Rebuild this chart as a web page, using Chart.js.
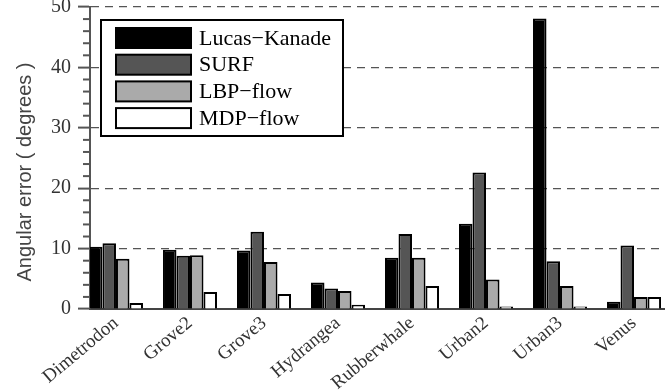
<!DOCTYPE html>
<html>
<head>
<meta charset="utf-8">
<script src="https://cdn.jsdelivr.net/npm/chart.js@4.4.0/dist/chart.umd.min.js"></script>
<style>
  html, body { margin: 0; padding: 0; background: #fff; }
</style>
</head>
<body>
<canvas id="chart" width="672" height="391"></canvas>
<script>
// data
const categories = ['Dimetrodon', 'Grove2', 'Grove3', 'Hydrangea', 'Rubberwhale', 'Urban2', 'Urban3', 'Venus'];
const lucasKanade = [10.3, 9.8, 9.7, 4.4, 8.5, 14.1, 48.1, 1.2];
const surf = [10.9, 8.8, 12.8, 3.4, 12.4, 22.6, 7.9, 10.5];
const lbpFlow = [8.3, 8.9, 7.8, 3.0, 8.5, 4.9, 3.8, 2.0];
const mdpFlow = [1.0, 2.8, 2.5, 0.7, 3.8, 0.4, 0.4, 2.0];
const yMin = 0, yMax = 50, yStep = 10, minorStep = 2;
const yTitle = 'Angular error ( degrees )';

function toPoints(values) {
    return values.map((v, i) => ({ x: i + 1, y: v }));
}

function makeSet(label, values, color) {
    return {
        label: label,
        data: toPoints(values),
        backgroundColor: color,
        borderColor: '#000',
        borderWidth: 2,
        categoryPercentage: 0.73,
        barPercentage: 1.0
    };
}

// small minor ticks on the y axis
const minorTicks = {
    id: 'minorTicks',
    afterDraw(chart) {
        const ctx = chart.ctx;
        const scale = chart.scales.y;
        const x = chart.chartArea.left;
        ctx.save();
        ctx.strokeStyle = '#555';
        ctx.lineWidth = 2;
        for (let v = yMin + minorStep; v < yMax; v += minorStep) {
            if (v % yStep === 0) continue;
            const py = scale.getPixelForValue(v);
            ctx.beginPath();
            ctx.moveTo(x - 7, py);
            ctx.lineTo(x, py);
            ctx.stroke();
        }
        ctx.restore();
    }
};

// y title sits a bit below the axis middle in the original
const sideTitle = {
    id: 'sideTitle',
    afterDraw(chart) {
        const ctx = chart.ctx;
        const area = chart.chartArea;
        ctx.save();
        ctx.translate(area.left - 65, (area.top + area.bottom) / 2 + 14);
        ctx.rotate(-Math.PI / 2);
        ctx.font = '20px "Liberation Sans"';
        ctx.fillStyle = '#444';
        ctx.textAlign = 'center';
        ctx.textBaseline = 'middle';
        ctx.fillText(yTitle, 0, 0);
        ctx.restore();
    }
};

// boxed legend inside the plot, like the original figure
const legendBox = {
    id: 'legendBox',
    afterDatasetsDraw(chart) {
        const ctx = chart.ctx;
        const area = chart.chartArea;
        const x0 = area.left + 11, y0 = area.top + 13;
        ctx.save();
        ctx.fillStyle = '#fff';
        ctx.fillRect(x0, y0, 242, 116);
        ctx.lineWidth = 2;
        ctx.strokeStyle = '#000';
        ctx.strokeRect(x0, y0, 242, 116);
        ctx.font = '22px "Liberation Serif"';
        ctx.textBaseline = 'middle';
        chart.data.datasets.forEach((ds, i) => {
            const sy = y0 + 8 + i * 26.7;
            ctx.fillStyle = ds.backgroundColor;
            ctx.fillRect(x0 + 15, sy, 75, 20);
            ctx.strokeRect(x0 + 15, sy, 75, 20);
            ctx.fillStyle = '#000';
            ctx.fillText(ds.label, x0 + 98, sy + 11);
        });
        ctx.restore();
    }
};

const ctx = document.getElementById('chart').getContext('2d');
const chart = new Chart(ctx, {
    type: 'bar',
    data: {
        datasets: [
            makeSet('Lucas\u2212Kanade', lucasKanade, '#000000'),
            makeSet('SURF', surf, '#555555'),
            makeSet('LBP\u2212flow', lbpFlow, '#aaaaaa'),
            makeSet('MDP\u2212flow', mdpFlow, '#ffffff')
        ]
    },
    options: {
        responsive: false,
        animation: false,
        layout: {
            autoPadding: false,
            padding: { top: 7, right: 8, left: 0, bottom: 0 }
        },
        plugins: {
            legend: { display: false },
            tooltip: { enabled: false }
        },
        scales: {
            x: {
                type: 'linear',
                offset: false,
                min: 0.649,
                max: 8.405,
                afterFit: function (scale) {
                    scale.height = 82;
                    scale.paddingLeft = 0;
                    scale.paddingRight = 0;
                },
                ticks: {
                    stepSize: 1,
                    includeBounds: false,
                    autoSkip: false,
                    minRotation: 40,
                    maxRotation: 40,
                    padding: -5,
                    color: '#333',
                    font: { family: 'Liberation Serif', size: 19 },
                    callback: function (v) { return categories[v - 1] || ''; }
                },
                grid: { display: false },
                border: { color: '#444', width: 2 }
            },
            y: {
                min: yMin,
                max: yMax,
                afterFit: function (scale) {
                    scale.width = 90;
                    scale.paddingTop = 0;
                    scale.paddingBottom = 0;
                },
                ticks: {
                    stepSize: yStep,
                    padding: 7,
                    color: '#333',
                    font: { family: 'Liberation Serif', size: 20 }
                },
                grid: {
                    color: '#555',
                    lineWidth: 1.2,
                    tickLength: 12,
                    tickColor: '#555',
                    tickWidth: 2,
                    tickBorderDash: []
                },
                border: { color: '#555', width: 2, dash: [8, 6] }
            }
        }
    },
    plugins: [minorTicks, legendBox, sideTitle]
});
</script>
</body>
</html>
